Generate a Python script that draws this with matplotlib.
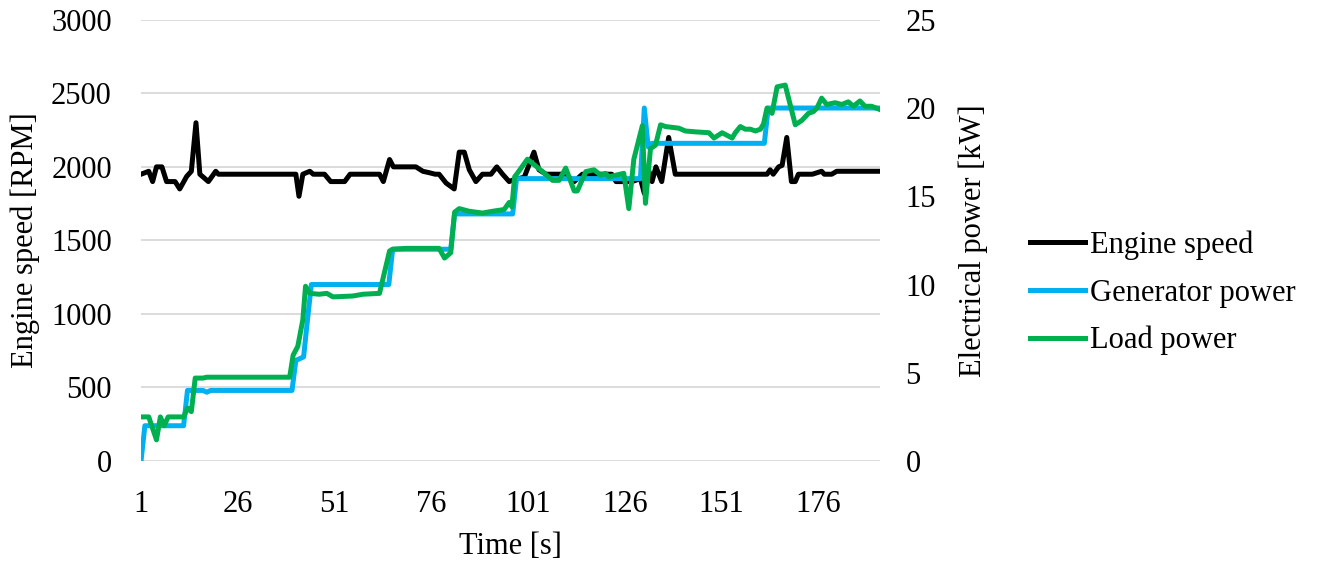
import numpy as np
import matplotlib.pyplot as plt

# Engine speed [RPM] (black)
speed_t = [1, 3, 4, 5, 6.4, 7.6, 9.8, 11, 12.8, 14, 15.2, 16.2, 18.4, 20.3, 21, 41, 41.8, 42.8, 44.6,
           45.5, 48.4, 50, 53.6, 55, 62.6, 63.6, 65.2, 66.2, 72, 73.8, 75.5, 77, 78, 79.8, 81.9,
           83.2, 84.5, 85.8, 87.5, 89.2, 91.4, 92.9, 94.4, 96.1, 97, 100, 102.5, 103.8, 105.6,
           110.7, 112.9, 115, 122.6, 123.7, 126, 127.8, 130, 131, 132.2, 133, 134, 135.5, 137.3,
           139, 162.7, 163.5, 164.3, 165.7, 166.6, 167.8, 169, 170, 170.8, 174.4, 176.8, 177.5,
           179.4, 180.7, 192]
speed_rpm = [1950, 1970, 1900, 2000, 2000, 1900, 1900, 1850, 1935, 1970, 2300, 1950, 1900, 1970,
             1950, 1950, 1800, 1950, 1970, 1950, 1950, 1900, 1900, 1950, 1950, 1900, 2050, 2000,
             2000, 1970, 1960, 1950, 1950, 1890, 1850, 2100, 2100, 1980, 1900, 1950, 1950, 2000,
             1950, 1900, 1910, 1930, 2100, 1980, 1950, 1950, 1900, 1950, 1950, 1900, 1900, 1900,
             1920, 1820, 1970, 1900, 2000, 1900, 2200, 1950, 1950, 1980, 1950, 2000, 2010, 2200,
             1900, 1900, 1950, 1950, 1970, 1950, 1950, 1970, 1970]

# Generator power [kW] (blue)
gen_t = [1, 2, 12, 13, 17, 18, 19, 40, 41, 43, 44, 45, 65, 66, 81, 82, 97, 98, 130, 131, 132,
         133, 162, 163, 192]
gen_kw = [0, 2.0, 2.0, 4.0, 4.0, 3.9, 4.0, 4.0, 5.7, 5.9, 8.0, 10.0, 10.0, 12.0, 12.0, 14.0,
          14.0, 16.0, 16.0, 20.0, 17.8, 18.0, 18.0, 20.0, 20.0]

# Load power [kW] (green)
load_t = [1, 3, 5, 6, 7, 8, 12, 13, 14, 15, 17, 18, 39.4, 40.3, 41.5, 42.8, 43.5, 44.6, 47,
          49, 50.6, 55.7, 58.3, 62.6, 65.2, 66, 69.5, 78, 79.4, 81, 82, 83.2, 85.8, 89.2, 91.8,
          94.8, 96.1, 96.8, 97.5, 98.2, 100.8, 102.5, 104.7, 107.3, 109, 110.7, 112.9, 113.7,
          115.9, 118, 119.7, 121, 121.8, 125.7, 127, 128.3, 130.5, 131.3, 132.6, 133.9, 135.2,
          136.5, 139.9, 141.6, 144.2, 147.7, 149, 151.1, 152.4, 153.7, 154.5, 155.8, 157.1,
          158.4, 159.7, 161, 161.8, 162.7, 164, 165.3, 167.4, 170, 171.7, 173.4, 174.7, 175.6,
          176.8, 178.1, 180.3, 182, 183.7, 185, 186.7, 188, 189.7, 192]
load_kw = [2.5, 2.5, 1.2, 2.5, 2.0, 2.5, 2.5, 3.0, 2.8, 4.7, 4.7, 4.75, 4.75, 6.0, 6.5, 8.0, 9.9,
           9.5, 9.45, 9.5, 9.3, 9.35, 9.45, 9.5, 11.9, 12.0, 12.05, 12.05, 11.5, 11.8, 14.1,
           14.3, 14.15, 14.05, 14.15, 14.25, 14.65, 14.4, 16.1, 16.3, 17.1, 16.8, 16.4, 15.9,
           15.9, 16.6, 15.3, 15.3, 16.4, 16.5, 16.2, 16.3, 16.1, 16.3, 14.3, 17.1, 19.0, 14.6,
           17.7, 17.9, 19.05, 18.95, 18.86, 18.7, 18.65, 18.6, 18.3, 18.6, 18.45, 18.3, 18.6,
           18.95, 18.8, 18.8, 18.7, 18.8, 19.1, 20.0, 19.7, 21.2, 21.3, 19.05, 19.3, 19.7, 19.8,
           20.0, 20.56, 20.2, 20.3, 20.2, 20.35, 20.1, 20.4, 20.1, 20.1, 19.9]

x_ticks = [1, 26, 51, 76, 101, 126, 151, 176]

plt.rcParams['font.family'] = ['Liberation Serif', 'DejaVu Serif']
fs = 22
lw = 3.6

fig = plt.figure(figsize=(13.24, 5.65), dpi=100)
ax = fig.add_axes([0.1065, 0.184, 0.5585, 0.781])
ax2 = ax.twinx()

ax.plot(speed_t, speed_rpm, color='black', lw=lw, label='Engine speed', solid_joinstyle='round')
ax2.plot(gen_t, gen_kw, color='#00b0f0', lw=lw, label='Generator power', solid_joinstyle='round')
ax2.plot(load_t, load_kw, color='#00b050', lw=lw, label='Load power', solid_joinstyle='round')

ax.set_xlim(1, 192)
ax.set_ylim(0, 3000)
ax2.set_ylim(0, 25)
ax.set_yticks(np.arange(0, 3001, 500))
ax2.set_yticks(np.arange(0, 26, 5))
ax.set_xticks(x_ticks)
ax.yaxis.grid(True, color='#d9d9d9', lw=1.3)
ax.set_axisbelow(True)

for a in (ax, ax2):
    for s in a.spines.values():
        s.set_visible(False)
    a.tick_params(length=0, labelsize=fs)
ax.tick_params(axis='y', pad=21)
ax2.tick_params(axis='y', pad=18)
ax.tick_params(axis='x', pad=21)

ax.set_xlabel('Time [s]', fontsize=fs, labelpad=9)
ax.set_ylabel('Engine speed [RPM]', fontsize=fs, labelpad=8)
ax2.set_ylabel('Electrical power [kW]', fontsize=fs, labelpad=16)

h1, l1 = ax.get_legend_handles_labels()
h2, l2 = ax2.get_legend_handles_labels()
fig.legend(h1 + h2, l1 + l2, loc='center left', bbox_to_anchor=(0.7575, 0.4814), frameon=False,
           fontsize=fs, handlelength=1.8, handletextpad=0.16, labelspacing=0.6)

fig.savefig('out.png', dpi=100)
